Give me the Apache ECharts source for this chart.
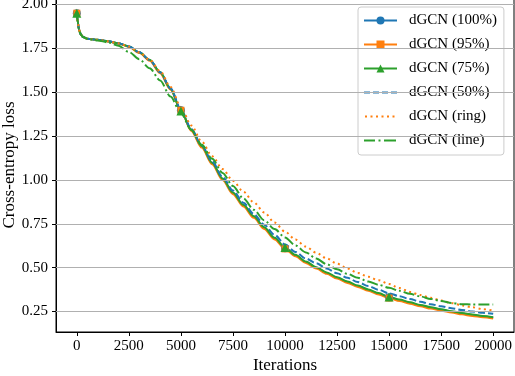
<!DOCTYPE html>
<html><head><meta charset="utf-8">
<script src="https://cdn.jsdelivr.net/npm/echarts@6/dist/echarts.min.js"></script>
<style>html,body{margin:0;padding:0;background:#fff}#c{width:515px;height:376px}</style>
</head><body><div id="c"></div>
<script>
const iters = [0,50,100,150,200,300,500,1000,1500,2000,2500,3000,3500,4000,4500,5000,5500,6000,6500,7000,7500,8000,8500,9000,9500,10000,10500,11000,11500,12000,12500,13000,13500,14000,14500,15000,15500,16000,16500,17000,17500,18000,18500,19000,19500,20000];
const loss100 = [1.95,1.895,1.86,1.84,1.827,1.814,1.805,1.798,1.790,1.778,1.760,1.727,1.683,1.613,1.52,1.397,1.285,1.19,1.095,1.005,0.925,0.855,0.79,0.727,0.667,0.611,0.57,0.532,0.50,0.47,0.443,0.418,0.395,0.373,0.352,0.331,0.315,0.30,0.285,0.272,0.26,0.249,0.239,0.23,0.222,0.215];
const loss95 = [1.95,1.895,1.86,1.84,1.827,1.814,1.805,1.797,1.789,1.777,1.758,1.724,1.679,1.608,1.514,1.397,1.279,1.184,1.089,0.999,0.919,0.849,0.784,0.721,0.661,0.607,0.565,0.527,0.495,0.465,0.438,0.413,0.39,0.368,0.347,0.327,0.31,0.295,0.28,0.267,0.255,0.244,0.234,0.225,0.217,0.21];
const loss75 = [1.95,1.895,1.86,1.84,1.827,1.814,1.805,1.798,1.790,1.778,1.760,1.727,1.684,1.615,1.52,1.393,1.286,1.193,1.098,1.008,0.928,0.858,0.793,0.73,0.67,0.615,0.573,0.535,0.503,0.473,0.446,0.421,0.398,0.376,0.355,0.333,0.318,0.303,0.288,0.275,0.263,0.252,0.242,0.233,0.225,0.218];
const loss50 = [1.95,1.895,1.86,1.84,1.827,1.814,1.805,1.798,1.790,1.778,1.760,1.727,1.683,1.614,1.522,1.402,1.29,1.197,1.105,1.018,0.94,0.87,0.806,0.745,0.687,0.632,0.59,0.552,0.525,0.496,0.468,0.442,0.418,0.395,0.374,0.354,0.337,0.321,0.306,0.292,0.28,0.269,0.259,0.25,0.243,0.237];
const lossRing = [1.95,1.895,1.86,1.84,1.827,1.814,1.805,1.798,1.790,1.778,1.760,1.727,1.685,1.62,1.53,1.415,1.31,1.218,1.135,1.062,0.995,0.933,0.872,0.815,0.757,0.705,0.66,0.62,0.585,0.553,0.523,0.495,0.47,0.448,0.428,0.407,0.384,0.362,0.344,0.328,0.313,0.298,0.285,0.274,0.264,0.255];
const lossLine = [1.95,1.895,1.86,1.84,1.827,1.814,1.804,1.795,1.784,1.765,1.729,1.688,1.636,1.567,1.475,1.38,1.285,1.2,1.12,1.04,0.965,0.895,0.83,0.77,0.72,0.672,0.627,0.587,0.552,0.52,0.491,0.465,0.442,0.421,0.402,0.385,0.368,0.351,0.336,0.322,0.31,0.299,0.292,0.29,0.29,0.29];
const markerIters = [0,5000,10000,15000];
const xTicks = [0,2500,5000,7500,10000,12500,15000,17500,20000];
const yTicks = [0.25,0.50,0.75,1.00,1.25,1.50,1.75,2.00];
const names = ['dGCN (100%)','dGCN (95%)','dGCN (75%)','dGCN (50%)','dGCN (ring)','dGCN (line)'];

const FONT = 'Liberation Serif';
const BLUE = '#1f77b4', ORANGE = '#ff7f0e', GREEN = '#2ca02c';
// legend glyphs for the patterned lines (33 x 10 box, tiny corner anchors keep scale 1:1)
const ANCH = 'M0,0h0.01v0.01z M33,10h-0.01v-0.01z ';
const styles = [
  { color: BLUE, type: 'solid', symbol: 'circle', size: 8 },
  { color: ORANGE, type: 'solid', symbol: 'rect', size: 7 },
  { color: GREEN, type: 'solid', symbol: 'triangle', size: 9 },
  { color: BLUE, type: [7, 3], icon: 'path://' + ANCH + 'M0,4h6v2h-6z M9,4h6v2h-6z M18,4h6v2h-6z M27,4h6v2h-6z' },
  { color: ORANGE, type: [2, 3.5], icon: 'path://' + ANCH + 'M1,4h2v2h-2z M6.5,4h2v2h-2z M12,4h2v2h-2z M17.5,4h2v2h-2z M23,4h2v2h-2z M28.5,4h2v2h-2z' },
  { color: GREEN, type: [11, 3, 2, 3], icon: 'path://' + ANCH + 'M0,4h11v2h-11z M14.5,4h2v2h-2z M20,4h12v2h-12z' }
];
const values = [loss100, loss95, loss75, loss50, lossRing, lossLine];

function pts(vals, withMarkers) {
  return iters.map((x, i) => {
    const item = { value: [x, vals[i]] };
    if (!withMarkers || markerIters.indexOf(x) < 0) item.symbol = 'none';
    return item;
  });
}
function lineSeries(i) {
  const s = styles[i];
  return {
    name: names[i], type: 'line', data: pts(values[i], !!s.symbol),
    symbol: s.symbol || 'none', symbolSize: s.size || 8, showAllSymbol: true,
    smooth: 0.3, smoothMonotone: 'x',
    lineStyle: { color: s.color, width: 2, type: s.type },
    itemStyle: { color: s.color, borderWidth: 0 },
    emphasis: { disabled: true }, z: 3
  };
}

const chart = echarts.init(document.getElementById('c'), null, { renderer: 'canvas' });
chart.setOption({
  animation: false,
  backgroundColor: '#fff',
  grid: { left: 56, right: 1, top: -2, bottom: 44, outerBoundsMode: 'none', containLabel: false,
    show: true, borderColor: '#000', borderWidth: 1, backgroundColor: 'transparent' },
  xAxis: {
    type: 'value', min: -1000, max: 21000,
    name: 'Iterations', nameLocation: 'middle', nameGap: 25, nameMoveOverlap: false,
    nameTextStyle: { fontFamily: FONT, fontSize: 17, color: '#000' },
    axisLine: { show: true, onZero: false, lineStyle: { color: '#000', width: 1 } },
    axisTick: { show: true, customValues: xTicks, length: 4, lineStyle: { color: '#000' } },
    axisLabel: { customValues: xTicks, margin: 7, fontFamily: FONT, fontSize: 15, color: '#000', formatter: v => String(v) },
    splitLine: { show: false }
  },
  yAxis: {
    type: 'value', min: 0.1335, max: 2.0365,
    name: 'Cross-entropy loss', nameLocation: 'middle', nameGap: 38, nameRotate: 90, nameMoveOverlap: false,
    nameTextStyle: { fontFamily: FONT, fontSize: 17, color: '#000' },
    axisLine: { show: true, onZero: false, lineStyle: { color: '#000', width: 1 } },
    axisTick: { show: true, customValues: yTicks, length: 4, lineStyle: { color: '#000' } },
    axisLabel: { customValues: yTicks, margin: 8, fontFamily: FONT, fontSize: 15, color: '#000', formatter: v => v.toFixed(2) },
    splitLine: { show: false }
  },
  legend: {
    data: names.map((n, i) => styles[i].icon
      ? { name: n, icon: styles[i].icon, itemStyle: { color: styles[i].color, borderWidth: 0 } }
      : { name: n }),
    orient: 'vertical', left: 358, top: 7,
    padding: [6, 7, 7, 5], itemGap: 9, itemWidth: 33, itemHeight: 10,
    backgroundColor: 'rgba(255,255,255,0.8)', borderColor: '#cccccc', borderWidth: 1, borderRadius: 3,
    textStyle: { fontFamily: FONT, fontSize: 15, color: '#000', padding: [0, 0, 0, 7], lineHeight: 14 }
  },
  series: [
    { type: 'line', data: [], silent: true, z: 1,
      markLine: { silent: true, symbol: 'none', label: { show: false }, animation: false,
        lineStyle: { color: '#b0b0b0', width: 1, type: 'solid' },
        data: yTicks.map(v => ({ yAxis: v })) } }
  ].concat(names.map((n, i) => lineSeries(i)))
});
</script>
</body></html>
